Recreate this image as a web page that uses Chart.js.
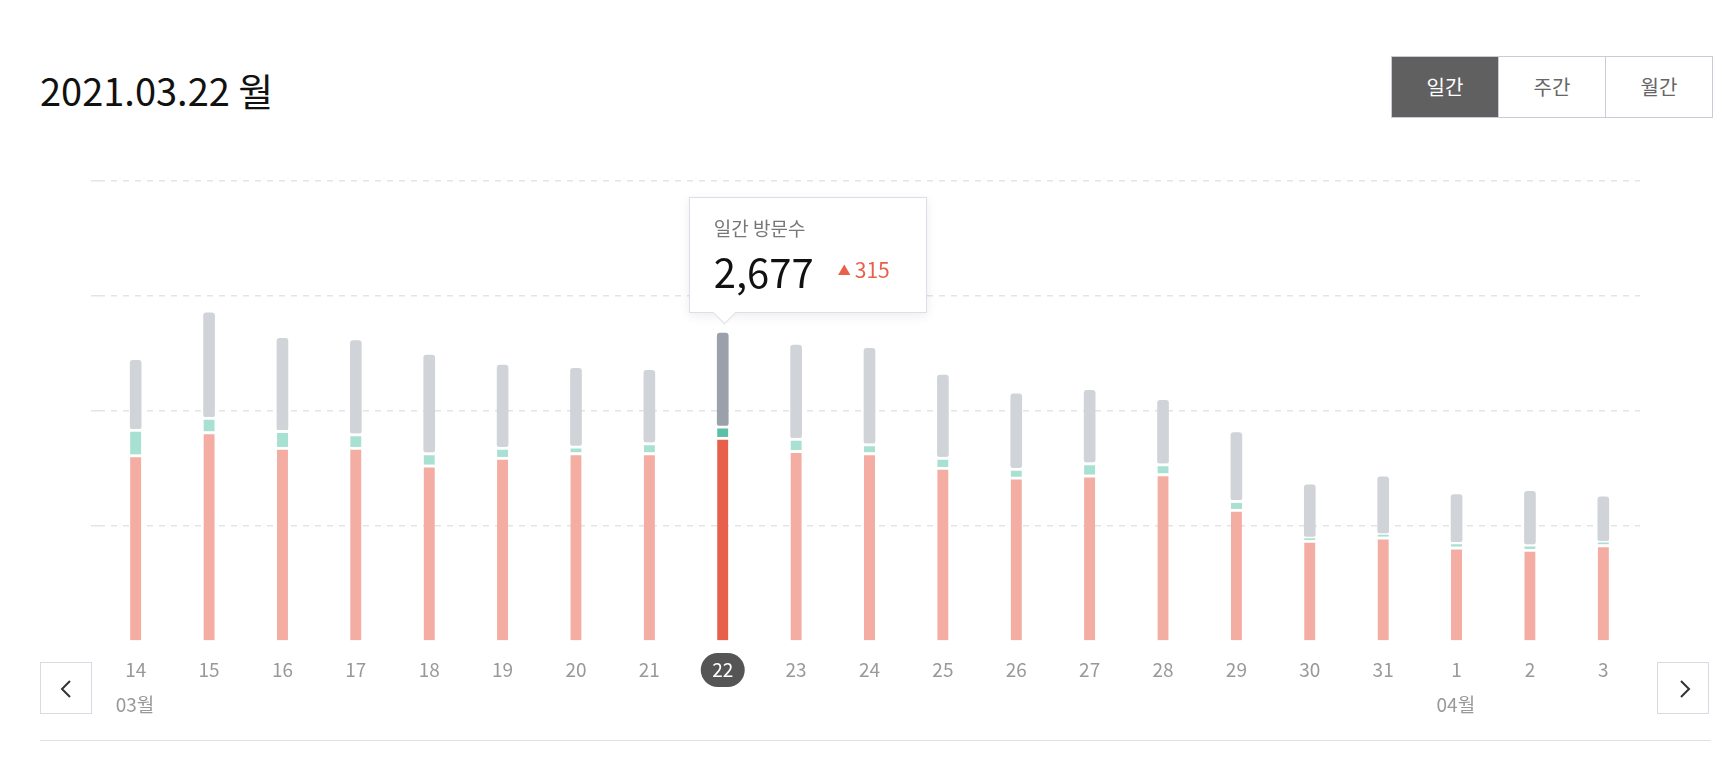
<!DOCTYPE html>
<html>
<head>
<meta charset="utf-8">
<script src="https://cdn.jsdelivr.net/npm/chart.js@4"></script>
<style>
  body { margin: 0; width: 1734px; height: 774px; background: #fff; font-family: "Noto Sans CJK KR", "Noto Sans", sans-serif; position: relative; overflow: hidden; }
  #title { position: absolute; left: 40px; top: 62px; font-size: 38px; color: #111; }
  .seg { position: absolute; top: 56px; height: 60px; display: flex; border: 1px solid #c9ccd6; }
  .seg div { width: 106px; line-height: 60px; text-align: center; font-size: 20px; color: #666; border-left: 1px solid #c9ccd6; }
  .seg div:first-child { border-left: none; background: #606060; color: #fff; }
  #wrap { position: absolute; left: 91px; top: 170px; width: 1549px; height: 560px; }
  .nav { position: absolute; top: 662px; width: 52px; height: 52px; border: 1px solid #d8dbe3; box-sizing: border-box; background: #fff; }
  .nav svg { position: absolute; left: 17px; top: 16px; }
  #line { position: absolute; left: 40px; top: 740px; width: 1671px; height: 1px; background: #dfe1e8; }
  #tip { position: absolute; width: 238px; height: 116px; background: #fff; border: 1px solid #dcdfea; box-shadow: 0 3px 10px rgba(0,0,0,0.08); box-sizing: border-box; }
  #tip .t1 { position: absolute; left: 24px; top: 16px; font-size: 19px; color: #777; }
  #tip .t2 { position: absolute; left: 24px; top: 44px; font-size: 40px; color: #111; }
  #tip .t3 { position: absolute; left: 148px; top: 56px; font-size: 21px; color: #e8604c; }
  #tip .t3 span { font-size: 13px; vertical-align: 3px; margin-right: 4px; }
  #tip .arrow { position: absolute; left: 26px; bottom: -9px; width: 16px; height: 16px; background: #fff; border-right: 1px solid #dcdfea; border-bottom: 1px solid #dcdfea; transform: rotate(45deg); }
</style>
</head>
<body>
<div id="title">2021.03.22 월</div>
<div class="seg" style="left:1391px"><div>일간</div><div>주간</div><div>월간</div></div>
<div id="wrap"><canvas id="myChart"></canvas></div>
<div class="nav" style="left:40px"><svg width="18" height="20"><polyline points="12,2 4,10 12,18" fill="none" stroke="#333" stroke-width="2"/></svg></div>
<div class="nav" style="left:1657px"><svg width="18" height="20"><polyline points="6,2 14,10 6,18" fill="none" stroke="#333" stroke-width="2"/></svg></div>
<div id="line"></div>
<div id="tip"><div class="t1">일간 방문수</div><div class="t2">2,677</div><div class="t3"><span>▲</span>315</div><div class="arrow"></div></div>
<script>
const labels = ['14', '15', '16', '17', '18', '19', '20', '21', '22', '23', '24', '25', '26', '27', '28', '29', '30', '31', '1', '2', '3'];
const monthLabels = ['03월', '', '', '', '', '', '', '', '', '', '', '', '', '', '', '', '', '', '04월', '', ''];
const dataRed = [1620, 1822, 1687, 1687, 1533, 1600, 1639, 1639, 1774, 1658, 1639, 1513, 1427, 1446, 1456, 1147, 877, 906, 819, 800, 839];
const dataTeal = [222, 125, 145, 116, 106, 87, 58, 87, 96, 106, 77, 87, 77, 106, 87, 77, 29, 29, 39, 39, 29];
const dataGray = [598, 906, 800, 810, 848, 713, 675, 627, 807, 810, 829, 713, 646, 627, 549, 588, 453, 492, 415, 463, 386];
const activeIndex = 8;

function colors(normal, active) {
    return labels.map((l, i) => i === activeIndex ? active : normal);
}

const labelPlugin = {
    id: 'labelPlugin',
    afterDraw(c) {
        const ctx = c.ctx;
        const x = c.scales.x;
        const base = c.chartArea.bottom;
        ctx.save();
        ctx.textAlign = 'center';
        ctx.textBaseline = 'middle';
        ctx.font = '19px "Noto Sans CJK KR"';
        labels.forEach((l, i) => {
            const px = x.getPixelForValue(i);
            if (i === activeIndex) {
                ctx.fillStyle = '#555';
                ctx.beginPath();
                ctx.roundRect(px - 22, base + 12, 44, 34, 17);
                ctx.fill();
                ctx.fillStyle = '#fff';
            } else {
                ctx.fillStyle = '#999';
            }
            ctx.fillText(l, px, base + 29);
            if (monthLabels[i]) {
                ctx.fillStyle = '#999';
                ctx.textAlign = 'left';
                ctx.fillText(monthLabels[i], px - 20, base + 64);
                ctx.textAlign = 'center';
            }
        });
        ctx.restore();
    }
};

const common = { borderRadius: 3, borderSkipped: false, barThickness: 11, borderColor: '#fff' };

const chart = new Chart(document.getElementById('myChart'), {
    type: 'bar',
    data: {
        labels: labels,
        datasets: [
            Object.assign({ label: 'red', data: dataRed, backgroundColor: colors('#f4ada3', '#e8604c'), borderWidth: { top: 3, bottom: 0, left: 0, right: 0 } }, common),
            Object.assign({ label: 'teal', data: dataTeal, backgroundColor: colors('#a8e0d2', '#5bc0a8'), borderWidth: { top: 3, bottom: 0, left: 0, right: 0 } }, common),
            Object.assign({ label: 'gray', data: dataGray, backgroundColor: colors('#d0d3d8', '#9ba1aa'), borderWidth: 0 }, common)
        ]
    },
    options: {
        responsive: true,
        maintainAspectRatio: false,
        animation: false,
        layout: { padding: { top: 11, bottom: 81 } },
        plugins: { legend: { display: false }, tooltip: { enabled: false } },
        scales: {
            x: { stacked: true, grid: { display: false }, border: { display: false }, ticks: { display: false } },
            y: {
                stacked: true, min: 0, max: 4000,
                ticks: { display: false, stepSize: 1000 },
                grid: { color: ctx => ctx.tick.value === 0 ? 'rgba(0,0,0,0)' : '#e2e4e8', lineWidth: 1.5 },
                border: { display: false, dash: [6, 6] }
            }
        }
    },
    plugins: [labelPlugin]
});

// tooltip box above the active bar
const tip = document.getElementById('tip');
const px = chart.scales.x.getPixelForValue(activeIndex) + 91;
const total = dataRed[activeIndex] + dataTeal[activeIndex] + dataGray[activeIndex];
const py = chart.scales.y.getPixelForValue(total) + 170;
tip.style.left = (px - 34) + 'px';
tip.style.top = (py - 136) + 'px';
</script>
</body>
</html>
